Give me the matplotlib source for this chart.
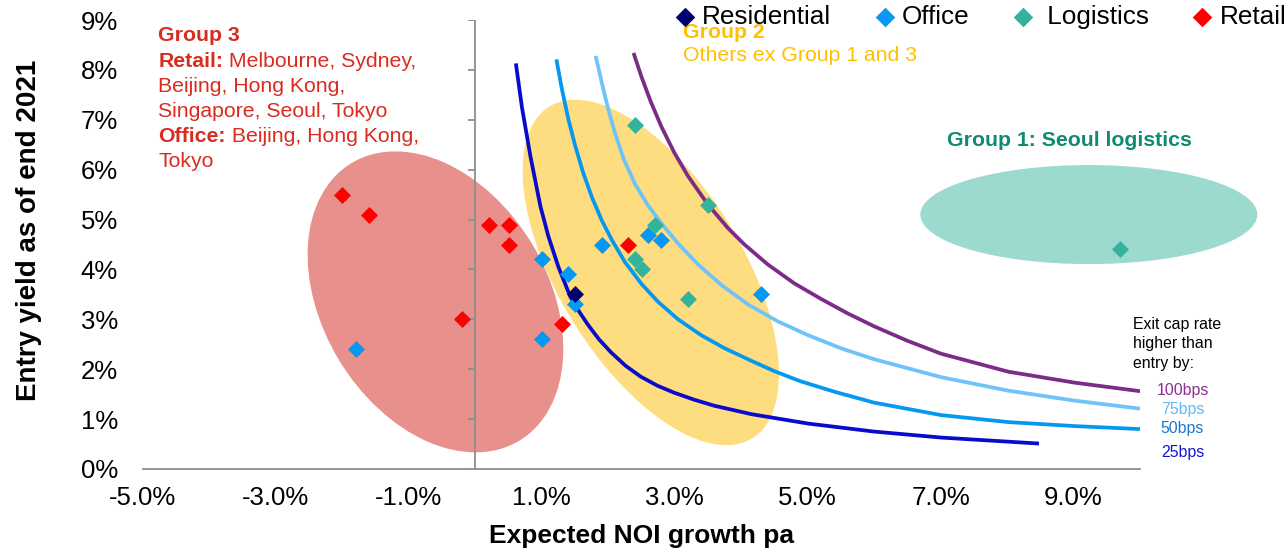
import numpy as np
import matplotlib
matplotlib.use('Agg')
import matplotlib.pyplot as plt
from matplotlib.patches import Ellipse
from matplotlib.transforms import Affine2D

plt.rcParams['font.family'] = ['Liberation Sans', 'DejaVu Sans']

# points: expected NOI growth pa (%) vs entry yield (%)
residential_x = [1.5]
residential_y = [3.5]
office_x = [-1.8, 1.0, 1.0, 1.4, 1.5, 1.9, 2.6, 2.8, 4.3]
office_y = [2.4, 4.2, 2.6, 3.9, 3.3, 4.5, 4.7, 4.6, 3.5]
logistics_x = [2.4, 3.5, 2.7, 2.4, 2.5, 3.2, 9.7]
logistics_y = [6.9, 5.3, 4.9, 4.2, 4.0, 3.4, 4.4]
retail_x = [-2.0, -1.6, 0.2, 0.5, 0.5, -0.2, 1.3, 2.3]
retail_y = [5.5, 5.1, 4.9, 4.9, 4.5, 3.0, 2.9, 4.5]

# iso-return curves, exit cap rate higher than entry by 25 / 50 / 75 / 100bps
c25_x = [0.61, 0.70, 0.83, 0.98, 1.10, 1.25, 1.43, 1.56, 1.69, 1.86, 2.04, 2.26, 2.49, 2.74, 2.99,
         3.29, 3.59, 4.15, 5.01, 6.00, 7.01, 8.48]
c25_y = [8.13, 7.26, 6.26, 5.26, 4.66, 4.05, 3.45, 3.16, 2.90, 2.60, 2.34, 2.07, 1.85, 1.67, 1.53,
         1.39, 1.27, 1.10, 0.91, 0.75, 0.63, 0.51]
c50_x = [1.22, 1.30, 1.40, 1.50, 1.62, 1.75, 1.90, 2.05, 2.25, 2.50, 2.75, 3.05, 3.40, 3.75, 4.15,
         4.50, 4.89, 5.40, 6.00, 7.01, 8.02, 9.02, 10.0]
c50_y = [8.21, 7.63, 7.01, 6.49, 5.95, 5.46, 4.99, 4.60, 4.15, 3.71, 3.35, 3.00, 2.68, 2.42, 2.17,
         1.96, 1.76, 1.55, 1.33, 1.08, 0.94, 0.86, 0.80]
c75_x = [1.81, 1.90, 1.99, 2.10, 2.23, 2.40, 2.59, 2.80, 3.05, 3.35, 3.70, 4.10, 4.55, 5.01, 5.50,
         6.00, 7.01, 8.02, 9.02, 10.0]
c75_y = [8.28, 7.76, 7.26, 6.74, 6.22, 5.72, 5.30, 4.92, 4.52, 4.10, 3.69, 3.30, 2.96, 2.68, 2.42,
         2.20, 1.84, 1.57, 1.37, 1.21]
c100_x = [2.38, 2.50, 2.64, 2.80, 2.99, 3.20, 3.50, 3.80, 4.04, 4.40, 4.80, 5.20, 5.60, 6.00, 6.50,
          7.01, 8.02, 9.02, 10.0]
c100_y = [8.34, 7.86, 7.36, 6.86, 6.35, 5.87, 5.30, 4.83, 4.51, 4.10, 3.72, 3.41, 3.12, 2.86, 2.57,
          2.31, 1.95, 1.73, 1.56]

curve_labels = ['100bps', '75bps', '50bps', '25bps']
curve_colors = ['#7B2C86', '#6EC3F8', '#0598F0', '#0A0ACC']
curve_text_colors = ['#8B2F91', '#62B8F5', '#1C78C8', '#1414D8']

# group ellipses: centre (x, y), width/height in x-units, angle
ell_centers = [(-0.60, 3.35), (2.64, 3.94), (9.23, 5.10)]
ell_widths = [4.88, 5.85, 5.07]
ell_heights = [3.39, 2.77, 1.49]
ell_angles = [-58.8, -58.6, 0.0]
ell_colors = ['#E8908B', '#FEDC80', '#9CDAD0']

xticks = [-5, -3, -1, 1, 3, 5, 7, 9]
yticks = list(range(0, 10))

fig = plt.figure(figsize=(12.88, 5.5), dpi=100)
ax = fig.add_axes([143 / 1288, 81 / 550, 997 / 1288, 449 / 550])
ax.set_xlim(-5, 10)
ax.set_ylim(0, 9)

# aspect between x and y units in pixels, so ellipses keep their shape
pos = ax.get_position()
k = (pos.width * 1288 / 15) / (pos.height * 550 / 9)
for c, w, h, a, col in zip(ell_centers, ell_widths, ell_heights, ell_angles, ell_colors):
    e = Ellipse((c[0], c[1] / k), w, h, angle=a, facecolor=col, edgecolor='none',
                transform=Affine2D().scale(1, k) + ax.transData, zorder=1, clip_on=False)
    ax.add_patch(e)

gray = '#8E8E8E'
ax.axvline(0, color=gray, lw=1.3, zorder=2)
ax.hlines(yticks, -0.11, 0, color=gray, lw=1.3, zorder=2)

for cx, cy, col in zip([c100_x, c75_x, c50_x, c25_x], [c100_y, c75_y, c50_y, c25_y], curve_colors):
    ax.plot(cx, cy, color=col, lw=2.7, zorder=3, solid_capstyle='butt', solid_joinstyle='round')

ms = 75
h_res = ax.scatter(residential_x, residential_y, marker='D', s=ms, color='#000070', lw=0, zorder=5)
h_off = ax.scatter(office_x, office_y, marker='D', s=ms, color='#0598F5', lw=0, zorder=4)
h_log = ax.scatter(logistics_x, logistics_y, marker='D', s=ms, color='#33B39B', lw=0, zorder=4)
h_ret = ax.scatter(retail_x, retail_y, marker='D', s=ms, color='#FF0000', lw=0, zorder=4)

for s in ['top', 'right', 'left']:
    ax.spines[s].set_visible(False)
ax.spines['bottom'].set_color(gray)
ax.spines['bottom'].set_linewidth(1.3)

ax.set_xticks(xticks)
ax.set_xticklabels([f'{v:.1f}%' for v in xticks])
ax.set_yticks(yticks)
ax.set_yticklabels([f'{v}%' for v in yticks])
ax.tick_params(axis='x', length=0, pad=12, labelsize=18.5)
ax.tick_params(axis='y', length=0, pad=18, labelsize=18.5)

ax.set_xlabel('Expected NOI growth pa', fontsize=19, fontweight='bold')
ax.xaxis.set_label_coords(0.5, -0.122)
ax.set_ylabel('Entry yield as of end 2021', fontsize=20, fontweight='bold')
ax.yaxis.set_label_coords(-0.101, 0.532)

fig.legend([h_res, h_off, h_log, h_ret], ['Residential', 'Office', ' Logistics', 'Retail'],
           loc='upper left', bbox_to_anchor=(669.5 / 1288, 1 - 5 / 550), ncol=4, frameon=False,
           fontsize=18.8, handletextpad=0.05, columnspacing=1.45, handlelength=1.2,
           markerscale=1.15, borderaxespad=0, borderpad=0)

# Group 3 annotation
red = '#DA2B1F'
g3_lines = [('Group 3', ''), ('Retail:', ' Melbourne, Sydney,'), ('', 'Beijing, Hong Kong,'),
            ('', 'Singapore, Seoul, Tokyo'), ('Office:', ' Beijing, Hong Kong,'), ('', 'Tokyo')]
for i, (b, r) in enumerate(g3_lines):
    yoff = -i * 18.1
    if b:
        t = ax.annotate(b, xy=(-4.77, 8.68), xytext=(0, yoff), textcoords='offset points',
                        fontsize=15.3, fontweight='bold', color=red, va='center', ha='left')
        if r:
            ax.annotate(r, xy=(1, 0), xycoords=t, fontsize=15.3, color=red, va='bottom', ha='left')
    else:
        ax.annotate(r, xy=(-4.77, 8.68), xytext=(0, yoff), textcoords='offset points',
                    fontsize=15.3, color=red, va='center', ha='left')

# Group 2 annotation
gold = '#FFC000'
ax.text(3.13, 8.74, 'Group 2', fontsize=15.3, fontweight='bold', color=gold, va='center', ha='left')
ax.text(3.13, 8.28, 'Others ex Group 1 and 3', fontsize=15.3, color=gold, va='center', ha='left')

# Group 1 annotation
ax.text(7.09, 6.59, 'Group 1: Seoul logistics', fontsize=15.3, fontweight='bold',
        color='#0E8B71', va='center', ha='left')

# curve key
ax.text(9.90, 2.89, 'Exit cap rate', fontsize=11.4, color='black', va='center', ha='left')
ax.text(9.90, 2.51, 'higher than', fontsize=11.4, color='black', va='center', ha='left')
ax.text(9.90, 2.12, 'entry by:', fontsize=11.4, color='black', va='center', ha='left')
for lab, col, yy in zip(curve_labels, curve_text_colors, [1.58, 1.20, 0.82, 0.34]):
    ax.text(10.64, yy, lab, fontsize=11.4, color=col, va='center', ha='center')

fig.savefig('out.png', dpi=100)
